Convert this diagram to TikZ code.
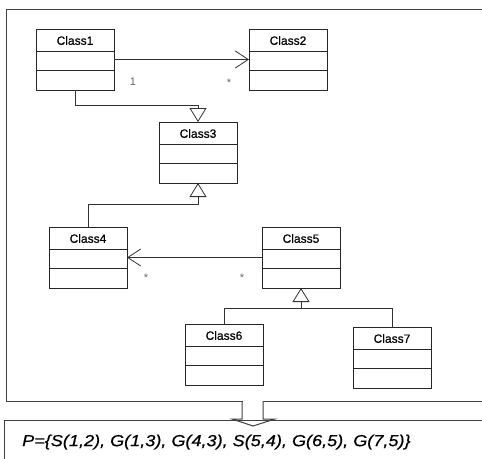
\documentclass[tikz,border=0pt]{standalone}
\usepackage{fontspec}
\setmainfont{Liberation Sans}
\newfontfamily\heavyfont[FakeBold=0.6]{Liberation Sans}
\usetikzlibrary{arrows.meta}
\tikzset{
  clsbox/.style={draw=black!85, line width=0.9pt, minimum width=78pt, minimum height=61pt, inner sep=0pt, outer sep=0pt},
  clsline/.style={draw=black!85, line width=0.9pt},
  clstitle/.style={font=\heavyfont\fontsize{12}{14}\selectfont, inner sep=0pt},
  conn/.style={draw=black!80, line width=0.8pt},
  gen/.style={conn, -{Triangle[open, length=14pt, width=17pt, line width=0.8pt]}},
  assoc/.style={conn, -{Straight Barb[length=13pt, width=17pt, line width=0.8pt]}},
  mult/.style={font=\fontsize{11}{13}\selectfont, text=black!60, inner sep=0pt},
  framebox/.style={draw=black!75, line width=1pt},
  ptext/.style={font=\heavyfont\fontsize{16}{18}\selectfont\itshape, inner sep=0pt, anchor=west},
}
\newcommand\umlclass[4]{%
  \node[clsbox] (#1) at ({#2+39},{#3+30.5}) {};
  \node[clstitle] (#1-name) at ({#2+39},{#3+11.5}) {#4};
  \draw[clsline] ([shift={(0,22)}]#1.north west) -- ([shift={(0,22)}]#1.north east);
  \draw[clsline] ([shift={(0,41)}]#1.north west) -- ([shift={(0,41)}]#1.north east);
}
\begin{document}
\begin{tikzpicture}[x=1pt,y=-1pt]
\useasboundingbox (0,0) rectangle (482,458);
% frames
\draw[framebox] (6,9) rectangle (492,401);
\draw[framebox] (4.5,420) rectangle (492,475);
% big arrow
\fill[white] (242.5,399) rectangle (262.5,418.5);
\draw[framebox] (242,401) -- (242,419) -- (232,419) -- (253,426) -- (275,419) -- (263,419) -- (263,401);
\node[ptext] (plist) at (22,442) {\scalebox{1.13}[1]{P=\{S(1,2), G(1,3), G(4,3), S(5,4), G(6,5), G(7,5)\}}};
% classes
\umlclass{c1}{36}{29}{Class1}
\umlclass{c2}{249}{29}{Class2}
\umlclass{c3}{159}{122}{Class3}
\umlclass{c4}{49}{227}{Class4}
\umlclass{c5}{262}{227}{Class5}
\umlclass{c6}{185}{324}{Class6}
\umlclass{c7}{353}{327}{Class7}
% junctions
\coordinate (j13) at (198,105);
\coordinate (j43) at (198,204);
\coordinate (j5) at (301,308);
% connectors
\draw[assoc] (c1.east) -- (c2.west);
\draw[assoc] (c5.west) -- (c4.east);
\draw[gen] (c1.south) |- (j13) -- (c3.north);
\draw[gen] (c4.north) |- (j43) -- (c3.south);
\draw[gen] (c6.north) |- (j5) -- (c5.south);
\draw[conn] (c7.north) |- (j5);
% multiplicities
\node[mult] (m1) at (133,82) {1};
\node[mult] (m2) at (229,83) {*};
\node[mult] (m3) at (146,278) {*};
\node[mult] (m4) at (242,278) {*};
\end{tikzpicture}
\end{document}
